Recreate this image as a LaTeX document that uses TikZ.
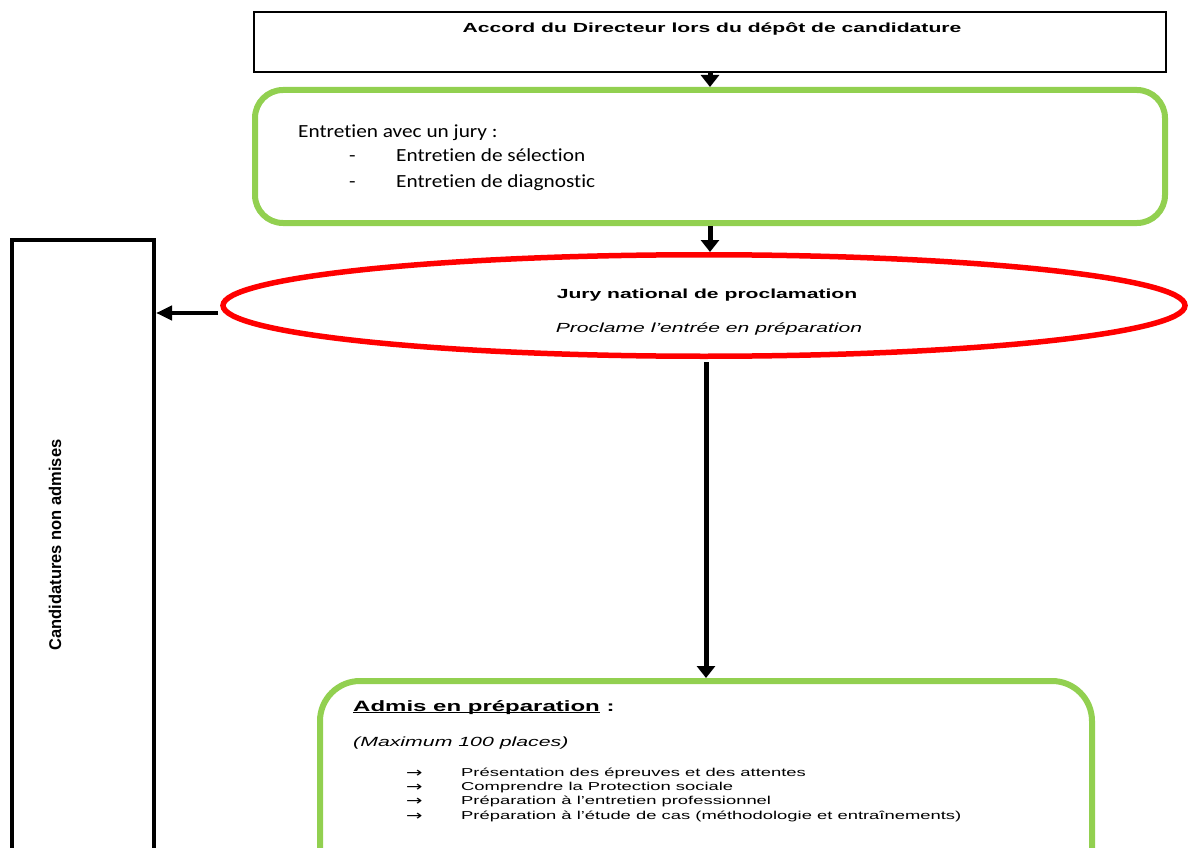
\documentclass[tikz,border=0pt]{standalone}
\usepackage{fontspec}
\setmainfont{Liberation Sans}
\newfontfamily\arialwide[FakeStretch=1.6]{Liberation Sans}
\newfontfamily\caliwide[FakeStretch=1.15,Ligatures=NoCommon]{Carlito}
\newfontfamily\arrowwide[FakeStretch=1.4]{DejaVu Sans}
\usetikzlibrary{arrows.meta,shapes.geometric}
\definecolor{boxgreen}{RGB}{146,208,80}

\begin{document}
\begin{tikzpicture}[x=1pt,y=-1pt,
  flow/.style={-{Triangle[width=18pt,length=12pt]}, line width=5pt},
  flowleft/.style={-{Triangle[width=14pt,length=16pt]}, line width=4pt},
  greenbox/.style={draw=boxgreen, line width=6pt, rounded corners=#1, inner sep=0pt}]
\useasboundingbox (0,0) rectangle (1189,848);
\clip (0,0) rectangle (1189,848);

% Boxes
\node[draw, line width=2pt, minimum width=912pt, minimum height=60pt, inner sep=0pt] (accord) at (710,42) {};
\node[greenbox=28pt, minimum width=910pt, minimum height=133pt] (entretien) at (710,156.5) {};
\node[ellipse, draw=red, line width=5.5pt, minimum width=962pt, minimum height=101.5pt, inner sep=0pt] (jury) at (704,305.5) {};
\node[draw, line width=4pt, minimum width=142pt, minimum height=620pt, inner sep=0pt] (refus) at (83,550) {};
\node[greenbox=40pt, minimum width=772pt, minimum height=219pt] (admis) at (706,790.5) {};

% Texts
\node[font=\arialwide\fontsize{13.2}{15}\selectfont\bfseries] (accordtxt) at (712,29) {Accord du Directeur lors du dépôt de candidature};

\node[anchor=base west, font=\caliwide\fontsize{18.5}{20}\selectfont, inner sep=0pt] (jurytitle) at (298,138) {Entretien avec un jury :};
\node[anchor=base west, font=\caliwide\fontsize{18.5}{20}\selectfont, inner sep=0pt] (dashone) at (349,162) {-};
\node[anchor=base west, font=\caliwide\fontsize{18.5}{20}\selectfont, inner sep=0pt] (selection) at (396,162) {Entretien de sélection};
\node[anchor=base west, font=\caliwide\fontsize{18.5}{20}\selectfont, inner sep=0pt] (dashtwo) at (349,187) {-};
\node[anchor=base west, font=\caliwide\fontsize{18.5}{20}\selectfont, inner sep=0pt] (diagnostic) at (396,187) {Entretien de diagnostic};

\node[font=\arialwide\fontsize{13.2}{15}\selectfont\bfseries] (juryname) at (707,295) {Jury national de proclamation};
\node[font=\arialwide\fontsize{13.2}{15}\selectfont\itshape] (jurysub) at (709,329) {Proclame l’entrée en préparation};

\node[rotate=90, font=\fontsize{17}{18}\selectfont\bfseries] (refustxt) at (55,545) {\addfontfeature{FakeStretch=0.97}Candidatures non admises};

\node[anchor=base west, inner sep=0pt, font=\arialwide\fontsize{15}{18}\selectfont\bfseries] (admistitle) at (353,711) {\underline{\smash{Admis en préparation}} :};
\node[anchor=base west, inner sep=0pt, font=\arialwide\fontsize{13.3}{16}\selectfont\itshape] (places) at (353,746) {(Maximum 100 places)};

% Programme
\foreach \y/\txt [count=\i] in {776/Présentation des épreuves et des attentes,
    790/Comprendre la Protection sociale,
    804/Préparation à l’entretien professionnel,
    819/Préparation à l’étude de cas (méthodologie et entraînements)} {
  \node[anchor=base west, inner sep=0pt, font=\arrowwide\fontsize{14}{14}\selectfont] (arrow\i) at (406,\y+1) {→};
  \node[anchor=base west, inner sep=0pt, font=\arialwide\fontsize{11.5}{13}\selectfont] (item\i) at (461,\y) {\txt};
}

% Arrows
\coordinate (tail) at (218,313);
\draw[flow] (accord.south) -- (entretien.north);
\draw[flow] (entretien.south) -- (entretien.south |- jury.north);
\draw[flowleft] (tail) -- (tail -| refus.east);
\draw[flow, shorten <=3pt] (jury.south -| admis.north) -- (admis.north);

\end{tikzpicture}
\end{document}
